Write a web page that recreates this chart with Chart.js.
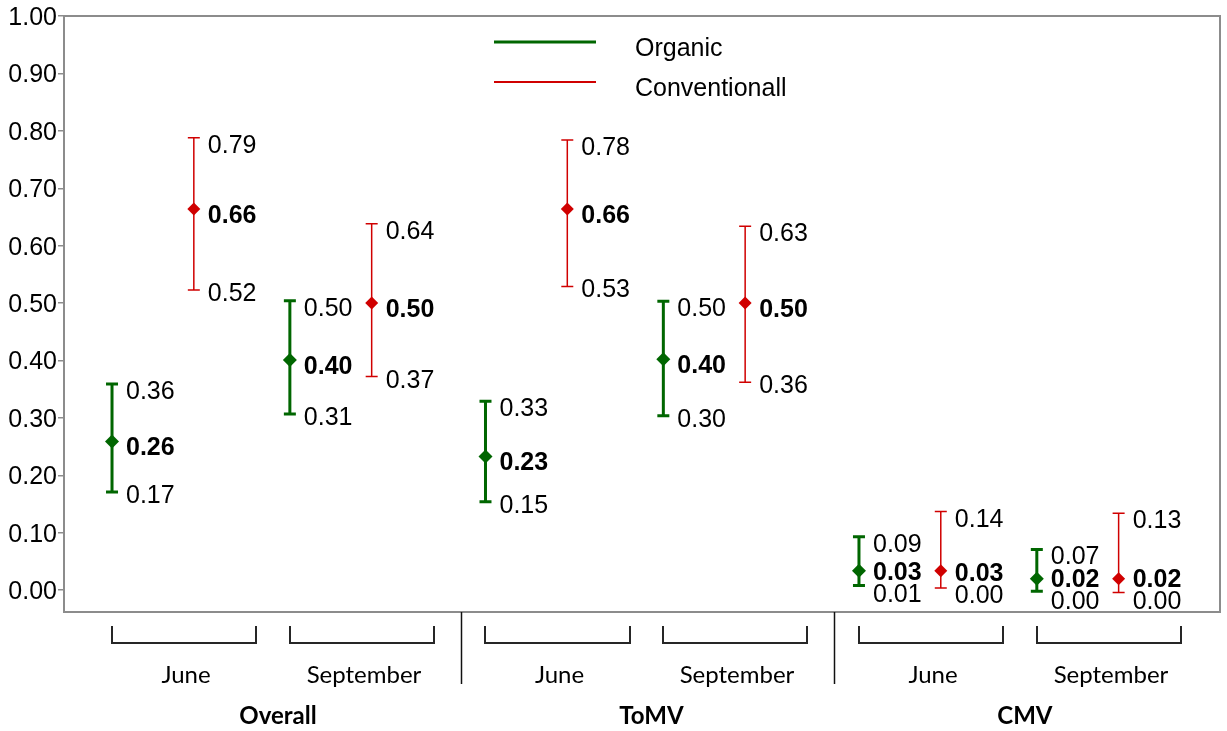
<!DOCTYPE html>
<html>
<head>
<meta charset="utf-8">
<script src="https://cdn.jsdelivr.net/npm/chart.js@4.4.1/dist/chart.umd.min.js"></script>
<style>
  html, body { margin: 0; padding: 0; background: #ffffff; }
  #wrap { width: 1227px; height: 731px; }
</style>
</head>
<body>
<div id="wrap"><canvas id="c" width="1227" height="731"></canvas></div>
<script>
// ---------------- data ----------------
const groups = ['Overall', 'ToMV', 'CMV'];
const months = ['June', 'September'];
const seriesNames = ['Organic', 'Conventionall'];

// order: Overall-June, Overall-Sept, ToMV-June, ToMV-Sept, CMV-June, CMV-Sept
const organicMean = [0.259, 0.401, 0.233, 0.402, 0.034, 0.020];
const organicLow  = [0.171, 0.307, 0.154, 0.304, 0.008, -0.002];
const organicHigh = [0.359, 0.504, 0.329, 0.503, 0.093, 0.071];

const conventionalMean = [0.664, 0.500, 0.664, 0.500, 0.034, 0.020];
const conventionalLow  = [0.523, 0.372, 0.529, 0.362, 0.004, -0.004];
const conventionalHigh = [0.788, 0.638, 0.784, 0.634, 0.137, 0.134];

const yTicks = [0.00, 0.10, 0.20, 0.30, 0.40, 0.50, 0.60, 0.70, 0.80, 0.90, 1.00];

// ---------------- layout (not data) ----------------
const GROUP_STEP = 2.1;
const SERIES_OFFSET = 0.23;
const BRACKET_L = -0.23, BRACKET_R = 0.58;
const GREEN = '#006600';
const RED = '#d00000';
const FRAME = '#8c8c8c';
const NUM_FONT = '"Liberation Sans", Arial, sans-serif';
const CAT_FONT = 'Lato, "Open Sans", sans-serif';

function slotCenter(i) {
  const g = Math.floor(i / months.length), m = i % months.length;
  return g * GROUP_STEP + m;
}
function fmt(v) { return (Math.round(v * 100) / 100).toFixed(2); }

function makePoints(means, s) {
  return means.map((v, i) => ({ x: slotCenter(i) + (s === 0 ? -SERIES_OFFSET : SERIES_OFFSET), y: v }));
}

const datasets = [
  {
    label: seriesNames[0],
    data: makePoints(organicMean, 0),
    lows: organicLow, highs: organicHigh,
    borderColor: GREEN, backgroundColor: GREEN,
    pointStyle: 'rectRot', pointRadius: 7, pointBorderWidth: 0,
    barWidth: 3, capHalf: 6, legendWidth: 3
  },
  {
    label: seriesNames[1],
    data: makePoints(conventionalMean, 1),
    lows: conventionalLow, highs: conventionalHigh,
    borderColor: RED, backgroundColor: RED,
    pointStyle: 'rectRot', pointRadius: 6.5, pointBorderWidth: 0,
    barWidth: 1.5, capHalf: 6, legendWidth: 2
  }
];

const errorBarPlugin = {
  id: 'errorBars',
  beforeDatasetsDraw(chart) {
    const ctx = chart.ctx, xs = chart.scales.x, ys = chart.scales.y;
    ctx.save();
    chart.data.datasets.forEach(ds => {
      ctx.strokeStyle = ds.borderColor;
      ctx.lineWidth = ds.barWidth;
      ds.data.forEach((p, i) => {
        const x = xs.getPixelForValue(p.x);
        const yl = ys.getPixelForValue(ds.lows[i]);
        const yh = ys.getPixelForValue(ds.highs[i]);
        ctx.beginPath();
        ctx.moveTo(x, yl); ctx.lineTo(x, yh);
        ctx.moveTo(x - ds.capHalf, yl); ctx.lineTo(x + ds.capHalf, yl);
        ctx.moveTo(x - ds.capHalf, yh); ctx.lineTo(x + ds.capHalf, yh);
        ctx.stroke();
      });
    });
    ctx.restore();
  },
  afterDraw(chart) {
    const ctx = chart.ctx, xs = chart.scales.x, ys = chart.scales.y, ca = chart.chartArea;
    ctx.save();
    // frame
    ctx.strokeStyle = FRAME; ctx.lineWidth = 2;
    ctx.strokeRect(ca.left, ca.top, ca.right - ca.left, ca.bottom - ca.top);

    // value labels
    const MIN_GAP = 22;
    chart.data.datasets.forEach(ds => {
      ds.data.forEach((p, i) => {
        const x = xs.getPixelForValue(p.x) + 14;
        const items = [
          { v: ds.highs[i], y: ys.getPixelForValue(ds.highs[i]) + 6, bold: false },
          { v: p.y, y: ys.getPixelForValue(p.y) + 5, bold: true },
          { v: ds.lows[i], y: ys.getPixelForValue(ds.lows[i]) + 2, bold: false }
        ];
        for (let it = 0; it < 30; it++) {
          for (let k = 0; k < 2; k++) {
            const gap = items[k + 1].y - items[k].y;
            if (gap < MIN_GAP) {
              const d = (MIN_GAP - gap) / 2;
              items[k].y -= d; items[k + 1].y += d;
            }
          }
        }
        ctx.fillStyle = '#000';
        ctx.textAlign = 'left';
        ctx.textBaseline = 'alphabetic';
        items.forEach(t => {
          ctx.font = (t.bold ? 'bold ' : '') + '25px ' + NUM_FONT;
          ctx.fillText(fmt(t.v), x, t.y + 9);
        });
      });
    });

    // category brackets and labels
    ctx.fillStyle = '#000';
    ctx.textAlign = 'center';
    ctx.textBaseline = 'middle';
    const bTop = 626, bBot = 643;
    groups.forEach((g, gi) => {
      months.forEach((m, mi) => {
        const c = gi * GROUP_STEP + mi;
        const x0 = Math.round(xs.getPixelForValue(c + BRACKET_L));
        const x1 = Math.round(xs.getPixelForValue(c + BRACKET_R));
        ctx.strokeStyle = '#262626'; ctx.lineWidth = 2;
        ctx.beginPath();
        ctx.moveTo(x0, bTop); ctx.lineTo(x0, bBot); ctx.lineTo(x1, bBot); ctx.lineTo(x1, bTop);
        ctx.stroke();
        ctx.font = '24px ' + CAT_FONT;
        ctx.fillText(m, (x0 + x1) / 2 + 2, 675);
      });
      const gx0 = xs.getPixelForValue(gi * GROUP_STEP + BRACKET_L);
      const gx1 = xs.getPixelForValue(gi * GROUP_STEP + months.length - 1 + BRACKET_R);
      ctx.font = 'bold 24px ' + CAT_FONT;
      ctx.fillText(g, (gx0 + gx1) / 2 + 5, 716);
      if (gi < groups.length - 1) {
        const sx = Math.round(xs.getPixelForValue((gi * GROUP_STEP + months.length - 1 + BRACKET_R + (gi + 1) * GROUP_STEP + BRACKET_L) / 2)) + 1.5;
        ctx.beginPath();
        ctx.strokeStyle = '#111'; ctx.lineWidth = 1.5;
        ctx.moveTo(sx, ca.bottom); ctx.lineTo(sx, 684);
        ctx.stroke();
      }
    });

    // legend
    const legY = [42, 82];
    chart.data.datasets.forEach((ds, k) => {
      ctx.strokeStyle = ds.borderColor;
      ctx.lineWidth = ds.legendWidth;
      ctx.beginPath();
      ctx.moveTo(494, legY[k]); ctx.lineTo(596, legY[k]);
      ctx.stroke();
      ctx.fillStyle = '#000';
      ctx.font = '25px ' + NUM_FONT;
      ctx.textAlign = 'left';
      ctx.textBaseline = 'alphabetic';
      ctx.fillText(ds.label, 635, legY[k] + 14);
    });
    ctx.restore();
  }
};

new Chart(document.getElementById('c'), {
  type: 'scatter',
  data: { datasets },
  options: {
    responsive: false,
    animation: false,
    devicePixelRatio: 1,
    layout: { padding: { top: 15, right: 2, bottom: 119, left: 0 } },
    plugins: { legend: { display: false }, tooltip: { enabled: false } },
    scales: {
      x: { type: 'linear', display: false, min: -0.5, max: 6.0 },
      y: {
        type: 'linear', min: -0.038, max: 1.0,
        afterFit(scale) { scale.width = 64; },
        afterBuildTicks(scale) { scale.ticks = yTicks.map(v => ({ value: v })); },
        ticks: {
          color: '#000', padding: 1, labelOffset: 2,
          font: { family: NUM_FONT, size: 25 },
          callback: v => fmt(v)
        },
        grid: { drawOnChartArea: false, drawTicks: true, tickLength: 6, color: FRAME, lineWidth: 1.5 },
        border: { display: true, color: FRAME, width: 2 }
      }
    }
  },
  plugins: [errorBarPlugin]
});
</script>
</body>
</html>
